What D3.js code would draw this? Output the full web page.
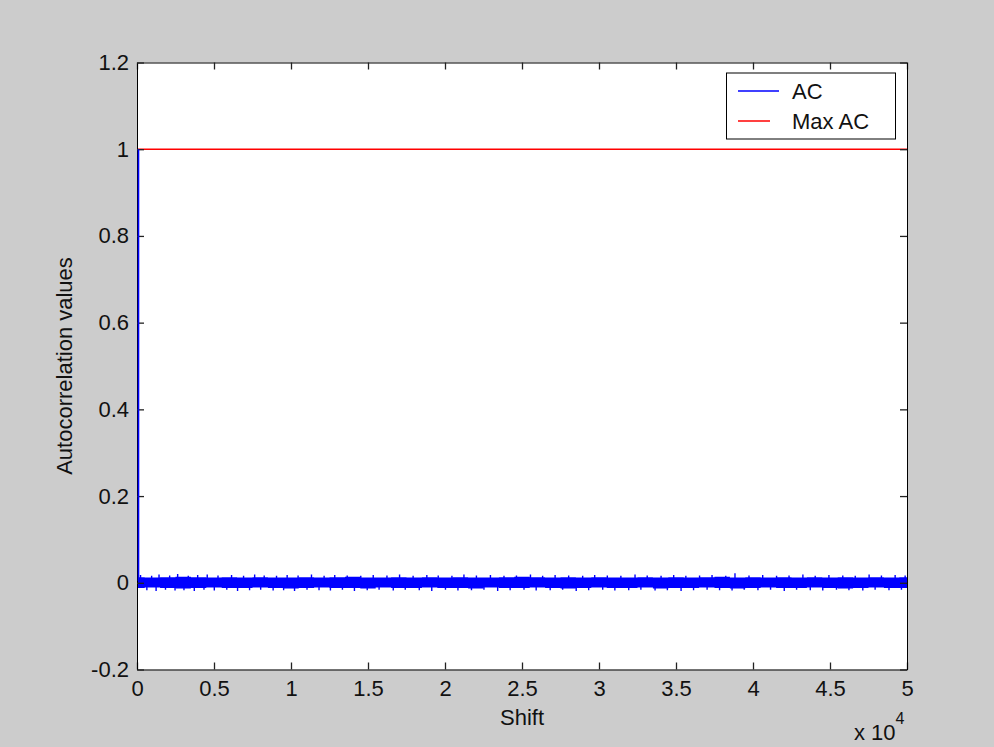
<!DOCTYPE html>
<html>
<head>
<meta charset="utf-8">
<script src="https://cdn.jsdelivr.net/npm/d3@7"></script>
<style>
  body { margin: 0; background: #cccccc; }
  svg { display: block; }
</style>
</head>
<body>
<div id="container"></div>
<script>
// Chart data
var xTicks = [0, 5000, 10000, 15000, 20000, 25000, 30000, 35000, 40000, 45000, 50000];
var xTickLabels = ["0", "0.5", "1", "1.5", "2", "2.5", "3", "3.5", "4", "4.5", "5"];
var yTicks = [-0.2, 0, 0.2, 0.4, 0.6, 0.8, 1, 1.2];
var yTickLabels = ["-0.2", "0", "0.2", "0.4", "0.6", "0.8", "1", "1.2"];
var seriesNames = ["AC", "Max AC"];

// AC at the first shifts (lag 0 = 1)
var acHead = [[0, 1.0], [1, 0.004]];

// envelope of the AC noise band, one value per 1000 shifts
var bandShift = [0, 1000, 2000, 3000, 4000, 5000, 6000, 7000, 8000, 9000,
  10000, 11000, 12000, 13000, 14000, 15000, 16000, 17000, 18000, 19000,
  20000, 21000, 22000, 23000, 24000, 25000, 26000, 27000, 28000, 29000,
  30000, 31000, 32000, 33000, 34000, 35000, 36000, 37000, 38000, 39000,
  40000, 41000, 42000, 43000, 44000, 45000, 46000, 47000, 48000, 49000, 50000];
var acUpper = [0.013, 0.012, 0.013, 0.014, 0.013, 0.012, 0.013, 0.012, 0.013, 0.012,
  0.012, 0.013, 0.012, 0.013, 0.014, 0.012, 0.012, 0.013, 0.012, 0.013,
  0.012, 0.013, 0.012, 0.012, 0.013, 0.014, 0.013, 0.012, 0.013, 0.012,
  0.013, 0.012, 0.012, 0.013, 0.012, 0.013, 0.012, 0.013, 0.014, 0.012,
  0.013, 0.012, 0.013, 0.012, 0.013, 0.012, 0.013, 0.012, 0.013, 0.012, 0.013];
var acLower = [-0.012, -0.011, -0.012, -0.013, -0.012, -0.011, -0.012, -0.012, -0.011, -0.012,
  -0.013, -0.012, -0.011, -0.012, -0.012, -0.013, -0.011, -0.012, -0.012, -0.011,
  -0.012, -0.012, -0.013, -0.011, -0.012, -0.012, -0.011, -0.012, -0.013, -0.012,
  -0.011, -0.012, -0.012, -0.011, -0.013, -0.012, -0.012, -0.011, -0.012, -0.013,
  -0.012, -0.011, -0.012, -0.012, -0.011, -0.012, -0.013, -0.012, -0.011, -0.012, -0.012];

// single peaks sticking out of the band [shift, value]
var acSpikes = [
  [230, 0.018], [640, -0.017], [950, 0.016], [1240, -0.019], [1430, 0.019], [1850, -0.016],
  [2120, 0.017], [2470, -0.018], [2640, 0.020], [3050, -0.017], [3330, 0.016], [3720, -0.019],
  [3940, 0.018], [4350, -0.016], [4560, 0.019], [5020, -0.018], [5260, 0.017], [5830, -0.016],
  [6140, 0.018], [6530, -0.019], [6920, 0.016], [7310, -0.017], [7640, 0.019], [8030, -0.016],
  [8260, 0.017], [8840, -0.018], [9060, 0.016], [9520, -0.017], [9750, 0.018], [10230, -0.019],
  [10460, 0.017], [11040, -0.016], [11330, 0.019], [11820, -0.017], [12150, 0.016], [12560, -0.018],
  [12840, 0.018], [13340, -0.016], [13650, 0.017], [14120, -0.019], [14530, 0.016], [14950, -0.017],
  [15340, 0.018], [15720, -0.016], [16230, 0.017], [16640, -0.018], [17050, 0.019], [17420, -0.016],
  [17930, 0.016], [18330, -0.017], [18820, 0.018], [19140, -0.019], [19560, 0.017], [20030, -0.016],
  [20450, 0.016], [20840, -0.018], [21230, 0.019], [21720, -0.017], [22040, 0.017], [22530, -0.016],
  [22950, 0.018], [23420, -0.019], [23830, 0.016], [24230, -0.017], [24640, 0.017], [25130, -0.016],
  [25550, 0.019], [25920, -0.018], [26340, 0.016], [26830, -0.017], [27150, 0.018], [27640, -0.016],
  [28030, 0.017], [28520, -0.019], [28940, 0.016], [29330, -0.017], [29720, 0.018], [30240, -0.016],
  [30540, 0.017], [31030, -0.018], [31420, 0.016], [31930, -0.017], [32340, 0.019], [32720, -0.016],
  [33130, 0.017], [33640, -0.018], [34030, 0.016], [34440, -0.017], [34850, 0.018], [35330, -0.019],
  [35640, 0.016], [36140, -0.017], [36530, 0.017], [37020, -0.016], [37340, 0.018], [37830, -0.017],
  [38230, 0.016], [38640, -0.018], [38830, 0.022], [39430, -0.016], [39740, 0.017], [40320, -0.017],
  [40630, 0.018], [41140, -0.016], [41530, 0.016], [42030, -0.019], [42340, 0.017], [42830, -0.016],
  [43240, 0.019], [43720, -0.017], [44040, 0.016], [44530, -0.018], [44930, 0.018], [45420, -0.016],
  [45830, 0.017], [46230, -0.017], [46640, 0.016], [47130, -0.018], [47540, 0.019], [47930, -0.016],
  [48340, 0.017], [48830, -0.017], [49230, 0.018], [49640, -0.016], [49880, 0.017]
];

// Max AC reference
var maxAC = 1;

// Layout
var w = 994, h = 747;
var axLeft = 137, axRight = 907, axTop = 62.5, axBottom = 669.5;
var font = "'Liberation Sans', Arial, Helvetica, sans-serif";

var svg = d3.select("#container").append("svg")
  .attr("width", w)
  .attr("height", h);

svg.append("rect")
  .attr("width", w).attr("height", h)
  .attr("fill", "#cccccc");

var x = d3.scaleLinear().domain([0, 50000]).range([axLeft, axRight]);
var y = d3.scaleLinear().domain([-0.2, 1.2]).range([axBottom, axTop]);

// Axes background
svg.append("rect")
  .attr("x", axLeft).attr("y", axTop)
  .attr("width", axRight - axLeft).attr("height", axBottom - axTop)
  .attr("fill", "#ffffff");

svg.append("clipPath").attr("id", "clip")
  .append("rect")
  .attr("x", axLeft).attr("y", axTop)
  .attr("width", axRight - axLeft).attr("height", axBottom - axTop);

var plot = svg.append("g").attr("clip-path", "url(#clip)");

// AC band
var band = d3.area()
  .x(function(d) { return x(d[0]); })
  .y0(function(d) { return y(d[2]); })
  .y1(function(d) { return y(d[1]); })
  .curve(d3.curveStep);

plot.append("path")
  .datum(bandShift.map(function(s, i) { return [s, acUpper[i], acLower[i]]; }))
  .attr("d", band)
  .attr("fill", "#0000ff");

// spikes
plot.selectAll("line.spike")
  .data(acSpikes)
  .enter()
  .append("line")
  .attr("class", "spike")
  .attr("x1", function(d) { return x(d[0]); })
  .attr("x2", function(d) { return x(d[0]); })
  .attr("y1", y(0))
  .attr("y2", function(d) { return y(d[1]); })
  .attr("stroke", "#0000ff")
  .attr("stroke-width", 1.4);

// Max AC
plot.append("line")
  .attr("x1", x(0)).attr("x2", x(50000))
  .attr("y1", y(maxAC)).attr("y2", y(maxAC))
  .attr("stroke", "#ff0000")
  .attr("stroke-width", 1.6);

// Axes (ticks inside, box all round)
function styleAxis(g) {
  g.select(".domain").attr("stroke", "#000").attr("stroke-width", 1);
  g.selectAll(".tick line").attr("stroke", "#222").attr("stroke-width", 1.3);
  g.selectAll("text")
    .attr("font-family", font)
    .attr("font-size", 22)
    .attr("fill", "#111");
}

svg.append("g")
  .attr("transform", "translate(0," + axBottom + ")")
  .call(d3.axisBottom(x).tickValues(xTicks)
    .tickFormat(function(d, i) { return xTickLabels[i]; })
    .tickSizeInner(-7).tickSizeOuter(0).tickPadding(11))
  .call(styleAxis);

svg.append("g")
  .attr("transform", "translate(0," + axTop + ")")
  .call(d3.axisTop(x).tickValues(xTicks).tickFormat("")
    .tickSizeInner(-7).tickSizeOuter(0))
  .call(styleAxis);

svg.append("g")
  .attr("transform", "translate(" + axLeft + ",0)")
  .call(d3.axisLeft(y).tickValues(yTicks)
    .tickFormat(function(d, i) { return yTickLabels[i]; })
    .tickSizeInner(-7).tickSizeOuter(0).tickPadding(8))
  .call(styleAxis);

svg.append("g")
  .attr("transform", "translate(" + axRight + ",0)")
  .call(d3.axisRight(y).tickValues(yTicks).tickFormat("")
    .tickSizeInner(-7).tickSizeOuter(0))
  .call(styleAxis);

// lag 0 drop, drawn over the left axis line so it stays visible
svg.append("path")
  .datum(acHead)
  .attr("transform", "translate(1.5,0)")
  .attr("d", d3.line()
    .x(function(d) { return x(d[0]); })
    .y(function(d) { return y(d[1]); }))
  .attr("fill", "none")
  .attr("stroke", "#0000ff")
  .attr("stroke-width", 1.6);

// Axis labels
svg.append("text")
  .attr("x", (axLeft + axRight) / 2)
  .attr("y", 725)
  .attr("text-anchor", "middle")
  .attr("font-family", font)
  .attr("font-size", 22)
  .attr("fill", "#111")
  .text("Shift");

svg.append("text")
  .attr("transform", "translate(72," + ((axTop + axBottom) / 2) + ") rotate(-90)")
  .attr("text-anchor", "middle")
  .attr("font-family", font)
  .attr("font-size", 22)
  .attr("fill", "#111")
  .text("Autocorrelation values");

var expo = svg.append("text")
  .attr("x", 854)
  .attr("y", 740)
  .attr("font-family", font)
  .attr("font-size", 22)
  .attr("fill", "#111");
expo.append("tspan").text("x 10");
expo.append("tspan").attr("dy", -16).attr("font-size", 16).text("4");

// Legend
var legend = svg.append("g");
legend.append("rect")
  .attr("x", 726.5).attr("y", 73)
  .attr("width", 169).attr("height", 66)
  .attr("fill", "#ffffff")
  .attr("stroke", "#000")
  .attr("stroke-width", 1);

var legendColors = ["#0000ff", "#ff0000"];
var legendLineEnd = [779, 770];
var legendY = [91, 121];

legend.selectAll("line.key")
  .data(seriesNames)
  .enter()
  .append("line")
  .attr("class", "key")
  .attr("x1", 738)
  .attr("x2", function(d, i) { return legendLineEnd[i]; })
  .attr("y1", function(d, i) { return legendY[i]; })
  .attr("y2", function(d, i) { return legendY[i]; })
  .attr("stroke", function(d, i) { return legendColors[i]; })
  .attr("stroke-width", 1.5);

legend.selectAll("text.key")
  .data(seriesNames)
  .enter()
  .append("text")
  .attr("class", "key")
  .attr("x", 792)
  .attr("y", function(d, i) { return legendY[i] + 7.5; })
  .attr("font-family", font)
  .attr("font-size", 22)
  .attr("fill", "#111")
  .text(function(d) { return d; });
</script>
</body>
</html>
